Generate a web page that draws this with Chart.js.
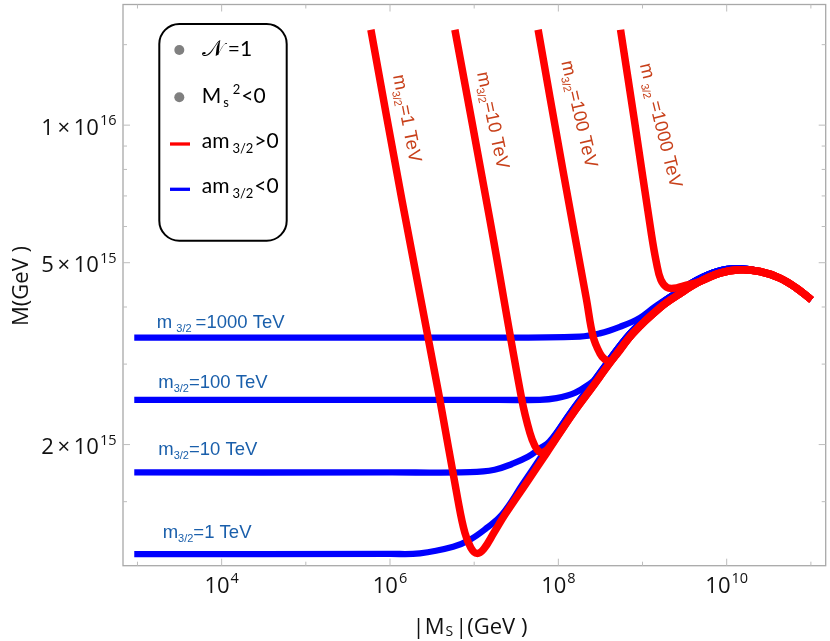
<!DOCTYPE html>
<html>
<head>
<meta charset="utf-8">
<script src="https://cdn.jsdelivr.net/npm/chart.js@4.4.1/dist/chart.umd.min.js"></script>
<style>
  html, body { margin: 0; padding: 0; background: #fff; }
  #wrap { width: 830px; height: 641px; position: relative; }
</style>
</head>
<body>
<div id="wrap"><canvas id="myChart"></canvas></div>
<script>
// gravitino masses (TeV) of the four curve families
const m32 = ['1', '10', '100', '1000'];

// common upper envelope, am3/2 > 0 (red)
const envRedX = [2.315e7, 4.11e7, 7.24e7, 1.50e8, 2.50e8, 4.09e8, 7.73e8, 1.605e9, 2.77e9, 4.80e9, 8.28e9, 1.432e10, 2.48e10, 4.28e10, 6.75e10, 1.016e11];
const envRedY = [1.404e15, 1.641e15, 1.916e15, 2.344e15, 2.662e15, 3.015e15, 3.506e15, 3.983e15, 4.275e15, 4.548e15, 4.745e15, 4.825e15, 4.784e15, 4.627e15, 4.399e15, 4.147e15];
// same envelope for am3/2 < 0 (blue), sits a hair above/left
const envBlueX = [2.133e7, 3.787e7, 6.67e7, 1.381e8, 2.302e8, 3.767e8, 7.124e8, 1.479e9, 2.556e9, 4.416e9, 7.63e9, 1.318e10, 2.48e10, 4.28e10, 6.75e10, 1.016e11];
const envBlueY = [1.404e15, 1.641e15, 1.916e15, 2.344e15, 2.662e15, 3.015e15, 3.506e15, 4.003e15, 4.306e15, 4.587e15, 4.787e15, 4.862e15, 4.784e15, 4.627e15, 4.399e15, 4.147e15];

// red branches before they meet the envelope
const red1X = [5.93e5, 1.384e6, 3.914e6, 6.405e6, 7.754e6, 9.14e6, 1.077e7, 1.304e7, 1.714e7];
const red1Y = [1.617e16, 6.865e15, 2.506e15, 1.514e15, 1.282e15, 1.189e15, 1.156e15, 1.183e15, 1.282e15];
const red10X = [5.90e6, 1.537e7, 3.685e7, 4.587e7, 5.259e7, 5.948e7, 6.73e7, 7.71e7];
const red10Y = [1.617e16, 6.21e15, 2.506e15, 2.122e15, 1.987e15, 1.928e15, 1.928e15, 1.967e15];
const red100X = [5.75e7, 1.131e8, 2.162e8, 2.590e8, 3.111e8, 3.567e8, 4.20e8];
const red100Y = [1.617e16, 7.98e15, 4.147e15, 3.446e15, 3.170e15, 3.073e15, 3.050e15];
const red1000X = [5.48e8, 7.99e8, 1.279e9, 1.467e9, 1.650e9, 1.944e9, 2.353e9, 3.094e9];
const red1000Y = [1.617e16, 1.027e16, 5.754e15, 4.989e15, 4.587e15, 4.417e15, 4.395e15, 4.451e15];
const redJoin = [0, 3, 6, 9];

// blue branches before they meet the envelope
const blue1X = [9.16e2, 1.0e6, 2.265e6, 5.63e6, 8.89e6, 1.404e7];
const blue1Y = [1.152e15, 1.153e15, 1.156e15, 1.195e15, 1.238e15, 1.313e15];
const blue10X = [9.16e2, 1.0e6, 8.89e6, 1.75e7, 2.81e7, 4.35e7, 6.03e7, 7.85e7];
const blue10Y = [1.738e15, 1.738e15, 1.741e15, 1.762e15, 1.814e15, 1.880e15, 1.960e15, 2.030e15];
const blue100X = [9.16e2, 1.0e7, 6.03e7, 9.52e7, 1.570e8, 2.366e8, 3.111e8];
const blue100Y = [2.506e15, 2.506e15, 2.506e15, 2.527e15, 2.595e15, 2.716e15, 2.835e15];
const blue1000X = [9.16e2, 1.0e7, 1.80e8, 3.11e8, 5.375e8, 9.29e8, 1.40e9];
const blue1000Y = [3.429e15, 3.429e15, 3.446e15, 3.502e15, 3.619e15, 3.787e15, 4.003e15];
const blueJoin = [0, 3, 5, 8];

// curve labels, anchored in data coordinates
const blueLabelX = [1.992e3, 1.766e3, 1.766e3, 1.70e3];
const blueLabelY = [1.249e15, 1.900e15, 2.658e15, 3.602e15];
const redLabelX = [1.083e6, 1.077e7, 1.085e8, 9.29e8];
const redLabelY = [1.282e16, 1.301e16, 1.375e16, 1.355e16];

// ticks
const xMajorTicks = [1e4, 1e6, 1e8, 1e10];
const xMajorExp = ['4', '6', '8', '10'];
const xMinorTicks = [1e3, 1e5, 1e7, 1e9, 1e11];
const yMajorTicks = [1e16, 5e15, 2e15];
const yMajorMant = ['1', '5', '2'];
const yMajorExp = ['16', '15', '15'];
const yMinorTicks = [1.5e15, 3e15, 4e15, 6e15, 7e15, 8e15, 9e15, 1.5e16];

const RED = '#ff0000', BLUE = '#0000ff';
const TICKFONT = '"Open Sans", Lato, sans-serif';
const LEGFONT = 'Lato, "Open Sans", sans-serif';
const LABFONT = '"Liberation Sans", Arial, sans-serif';

function pts(xs, ys) {
  return xs.map((v, i) => ({ x: v, y: ys[i] }));
}

function drawRuns(ctx, runs, x, y, align, family) {
  let w = 0;
  runs.forEach(r => {
    ctx.font = r.size + 'px ' + (r.family || family);
    r.w = ctx.measureText(r.t).width;
    w += r.w + (r.gap || 0);
  });
  let cx = align === 'center' ? x - w / 2 : align === 'right' ? x - w : x;
  runs.forEach(r => {
    cx += r.gap || 0;
    ctx.font = r.size + 'px ' + (r.family || family);
    ctx.fillText(r.t, cx, y + (r.dy || 0));
    cx += r.w;
  });
}

function mLabel(m) {
  const big = m === '1000';
  return [
    { t: 'm', size: 18.5 },
    { t: '3/2', size: 11, dy: 4, gap: big ? 4 : 0 },
    { t: '=' + m + ' TeV', size: 18.5, gap: big ? 4 : 0 }
  ];
}

const framePlugin = {
  id: 'frame',
  beforeDatasetsDraw(chart) {
    const { ctx, chartArea: a, scales: { x, y } } = chart;
    ctx.save();
    ctx.strokeStyle = '#a8a8a8';
    ctx.lineWidth = 1.3;
    ctx.strokeRect(a.left, a.top, a.right - a.left, a.bottom - a.top);
    ctx.strokeStyle = '#bdbdbd';
    ctx.lineWidth = 1;
    const seg = (x1, y1, x2, y2) => { ctx.beginPath(); ctx.moveTo(x1, y1); ctx.lineTo(x2, y2); ctx.stroke(); };
    const xt = (v, len) => { const p = x.getPixelForValue(v); seg(p, a.bottom, p, a.bottom - len); seg(p, a.top, p, a.top + len); };
    const yt = (v, len) => { const p = y.getPixelForValue(v); seg(a.left, p, a.left + len, p); seg(a.right, p, a.right - len, p); };
    xMajorTicks.forEach(v => xt(v, 7));
    xMinorTicks.forEach(v => xt(v, 4));
    yMajorTicks.forEach(v => yt(v, 7));
    yMinorTicks.forEach(v => yt(v, 4));
    ctx.restore();
  },
  afterDraw(chart) {
    const { ctx, chartArea: a, scales: { x, y } } = chart;
    ctx.save();
    ctx.fillStyle = '#111';
    ctx.textAlign = 'left';
    ctx.textBaseline = 'alphabetic';
    xMajorTicks.forEach((v, i) => {
      drawRuns(ctx, [{ t: '10', size: 22 }, { t: xMajorExp[i], size: 14.5, dy: -10, gap: 1 }],
        x.getPixelForValue(v), a.bottom + 27.5, 'center', TICKFONT);
    });
    yMajorTicks.forEach((v, i) => {
      drawRuns(ctx, [{ t: yMajorMant[i] + '\u2009\u00d7\u200910', size: 22 }, { t: yMajorExp[i], size: 14.5, dy: -9.5, gap: 1 }],
        a.left - 6.5, y.getPixelForValue(v) + 9.5, 'right', TICKFONT);
    });
    // axis titles
    drawRuns(ctx, [{ t: '|M', size: 22 }, { t: 'S', size: 14, dy: 2, gap: 1 }, { t: '|(GeV )', size: 22, gap: 2 }],
      470, a.bottom + 68.5, 'center', TICKFONT);
    ctx.translate(28, 286);
    ctx.rotate(-Math.PI / 2);
    drawRuns(ctx, [{ t: 'M(GeV )', size: 22 }], 0, 0, 'center', TICKFONT);
    ctx.restore();

    // legend box
    ctx.save();
    const bx = 159.3, by = 24, bw = 127.4, bh = 216.7, r = 20;
    ctx.beginPath();
    ctx.roundRect(bx, by, bw, bh, r);
    ctx.fillStyle = '#fff';
    ctx.fill();
    ctx.lineWidth = 2;
    ctx.strokeStyle = '#000';
    ctx.stroke();
    ctx.fillStyle = '#808080';
    [50, 97.3].forEach(cy => { ctx.beginPath(); ctx.arc(179.3, cy, 5, 0, Math.PI * 2); ctx.fill(); });
    ctx.lineWidth = 3.3;
    ctx.strokeStyle = RED;
    ctx.beginPath(); ctx.moveTo(170, 144); ctx.lineTo(190, 144); ctx.stroke();
    ctx.strokeStyle = BLUE;
    ctx.beginPath(); ctx.moveTo(170, 189.3); ctx.lineTo(190, 189.3); ctx.stroke();
    ctx.fillStyle = '#000';
    ctx.textAlign = 'left';
    ctx.textBaseline = 'alphabetic';
    drawRuns(ctx, [{ t: '\u{1D4A9}', size: 23 }, { t: '=1', size: 21, gap: 4 }], 201.7, 56, 'left', LEGFONT);
    drawRuns(ctx, [{ t: 'M', size: 21 }, { t: 's', size: 13, dy: 4, gap: 2 }, { t: '2', size: 13, dy: -9, gap: 4 }, { t: '<0', size: 21, gap: 1 }], 201.7, 102.7, 'left', LEGFONT);
    drawRuns(ctx, [{ t: 'am', size: 21 }, { t: '3/2', size: 13, dy: 4.5, gap: 3 }, { t: '>0', size: 21, gap: 1 }], 201.7, 148.3, 'left', LEGFONT);
    drawRuns(ctx, [{ t: 'am', size: 21 }, { t: '3/2', size: 13, dy: 4.5, gap: 3 }, { t: '<0', size: 21, gap: 1 }], 201.7, 193.3, 'left', LEGFONT);
    ctx.restore();
  },
  afterDatasetsDraw(chart) {
    const { ctx, scales: { x, y } } = chart;
    ctx.save();
    ctx.textAlign = 'left';
    ctx.textBaseline = 'alphabetic';
    ctx.fillStyle = '#1a5fab';
    m32.forEach((m, i) => {
      drawRuns(ctx, mLabel(m), x.getPixelForValue(blueLabelX[i]), y.getPixelForValue(blueLabelY[i]), 'left', LABFONT);
    });
    ctx.fillStyle = '#c8401a';
    m32.forEach((m, i) => {
      ctx.save();
      ctx.translate(x.getPixelForValue(redLabelX[i]), y.getPixelForValue(redLabelY[i]));
      ctx.rotate((79 - i) * Math.PI / 180);
      drawRuns(ctx, mLabel(m), 0, 0, 'left', LABFONT);
      ctx.restore();
    });
    ctx.restore();
  }
};

const redSets = [[red1X, red1Y], [red10X, red10Y], [red100X, red100Y], [red1000X, red1000Y]];
const blueSets = [[blue1X, blue1Y], [blue10X, blue10Y], [blue100X, blue100Y], [blue1000X, blue1000Y]];

const datasets = [];
redSets.forEach((s, i) => {
  datasets.push({
    label: 'am3/2>0, m3/2=' + m32[i] + ' TeV',
    data: pts(s[0].concat(envRedX.slice(redJoin[i])), s[1].concat(envRedY.slice(redJoin[i]))),
    borderColor: RED, borderWidth: 7.5
  });
});
blueSets.forEach((s, i) => {
  datasets.push({
    label: 'am3/2<0, m3/2=' + m32[i] + ' TeV',
    data: pts(s[0].concat(envBlueX.slice(blueJoin[i])), s[1].concat(envBlueY.slice(blueJoin[i]))),
    borderColor: BLUE, borderWidth: 6.3
  });
});
datasets.forEach(d => {
  d.showLine = true;
  d.pointRadius = 0;
  d.tension = 0.4;
  d.borderJoinStyle = 'round';
  d.fill = false;
});

const ctx = document.getElementById('myChart');

new Chart(ctx, {
  type: 'scatter',
  data: { datasets: datasets },
  options: {
    responsive: true,
    maintainAspectRatio: false,
    animation: false,
    layout: { padding: { left: 123, top: 4.5, right: 4.3, bottom: 75.3 } },
    plugins: { legend: { display: false }, tooltip: { enabled: false } },
    scales: {
      x: { type: 'logarithmic', min: 673, max: 1.5e11, display: false },
      y: { type: 'logarithmic', min: 1.0864e15, max: 1.8365e16, display: false }
    }
  },
  plugins: [framePlugin]
});
</script>
</body>
</html>
